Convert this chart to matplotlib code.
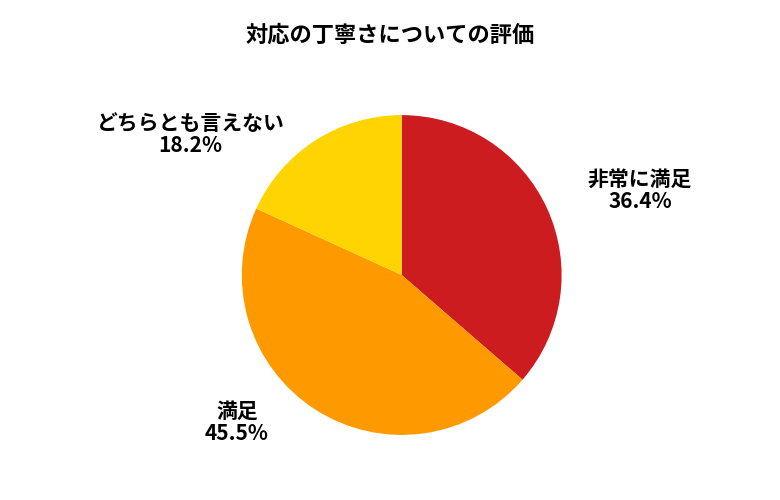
import matplotlib
matplotlib.use("Agg")
from matplotlib import pyplot as plt

plt.rcParams['font.family'] = ['Noto Sans CJK JP', 'DejaVu Sans']

labels = ['非常に満足', '満足', 'どちらとも言えない']
values = [36.4, 45.5, 18.2]
colors = ['#CC1C1F', '#FF9900', '#FFD400']
# label positions in axes data units (pie radius = 1)
label_pos = [(1.49, 0.53), (-1.03, -0.92), (-1.32, 0.88)]

fig = plt.figure(figsize=(7.8, 5), dpi=100)
ax = fig.add_axes([0.515 - 0.205, 0.45 - 0.32, 0.41, 0.64])
ax.pie(values, colors=colors, startangle=90, counterclock=False, radius=1)
ax.set_xlim(-1, 1)
ax.set_ylim(-1, 1)
ax.set_aspect('equal')
ax.axis('off')

for lab, v, (x, y) in zip(labels, values, label_pos):
    ax.text(x, y, f'{lab}\n{v:.1f}%', ha='center', va='center',
            fontsize=15, fontweight='bold', linespacing=1.05, clip_on=False)

fig.text(0.5, 0.93, '対応の丁寧さについての評価', ha='center', va='center',
         fontsize=16, fontweight='bold')

fig.savefig('out.png', dpi=100)
